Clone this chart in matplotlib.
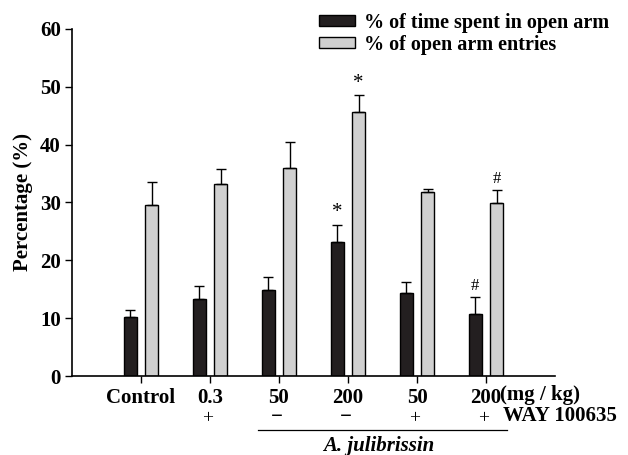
import numpy as np
import matplotlib.pyplot as plt

plt.rcParams['font.family'] = ['Liberation Serif', 'DejaVu Serif']
plt.rcParams['font.weight'] = 'bold'

doses = ['Control', '0.3', '50', '200', '50', '200']
way = ['', '+', '\u2212', '\u2212', '+', '+']
time_mean = [10.15, 13.4, 14.9, 23.1, 14.4, 10.7]
time_err = [1.2, 2.2, 2.2, 3.0, 1.8, 3.0]
entry_mean = [29.5, 33.2, 36.0, 45.7, 31.8, 29.9]
entry_err = [4.0, 2.6, 4.4, 2.8, 0.6, 2.3]
time_marks = ['', '', '', '*', '', '#']
entry_marks = ['', '', '', '*', '', '#']

x = np.arange(1, len(doses) + 1)
w = 0.19
off = 0.155

fig = plt.figure(figsize=(6.28, 4.55), dpi=100)
ax = fig.add_axes([0.1146, 0.1736, 0.8838 - 0.1146, 0.9363 - 0.1736])

b1 = ax.bar(x - off, time_mean, w, color='#231f20', edgecolor='black', linewidth=1,
            label='% of time spent in open arm')
b2 = ax.bar(x + off, entry_mean, w, color='#d0d0d0', edgecolor='black', linewidth=1,
            label='% of open arm entries')
ax.errorbar(x - off, time_mean, yerr=[np.zeros(len(x)), time_err], fmt='none',
            ecolor='black', elinewidth=1, capsize=3.5, capthick=1)
ax.errorbar(x + off, entry_mean, yerr=[np.zeros(len(x)), entry_err], fmt='none',
            ecolor='black', elinewidth=1, capsize=3.5, capthick=1)

for xs, means, errs, marks in [(x - off, time_mean, time_err, time_marks),
                               (x + off, entry_mean, entry_err, entry_marks)]:
    for xi, m, e, s in zip(xs, means, errs, marks):
        if s:
            ax.text(xi, m + e + 0.5, s, ha='center', va='bottom',
                    fontsize=15 if s == '*' else 12, fontweight='normal')

ax.set_xlim(0, 7)
ax.set_ylim(0, 60)
ax.set_yticks(np.arange(0, 61, 10))
ax.set_xticks(x)
ax.set_xticklabels([])
ax.tick_params(axis='y', labelsize=15, length=5, width=1, direction='out', pad=3)
ax.tick_params(axis='x', length=5, width=1, direction='out')
for lab in ax.get_yticklabels():
    lab.set_fontweight('bold')
for sp in ['top', 'right']:
    ax.spines[sp].set_visible(False)
for sp in ['left', 'bottom']:
    ax.spines[sp].set_linewidth(1.2)

ax.set_ylabel('Percentage (%)', fontsize=15, fontweight='bold', labelpad=5)

tr = ax.get_xaxis_transform()
for xi, d, wv in zip(x, doses, way):
    ax.text(xi, -0.063, d, transform=tr, ha='center', va='center', fontsize=15,
            fontweight='bold')
    if wv == '+':
        ax.text(xi - 0.03, -0.123, wv, transform=tr, ha='center', va='center',
                fontsize=14, fontweight='normal')
    elif wv:
        ax.text(xi - 0.03, -0.118, wv, transform=tr, ha='center', va='center',
                fontsize=15, fontweight='heavy')

ax.text(6.2, -0.055, '(mg / kg)', transform=tr, ha='left', va='center', fontsize=15,
        fontweight='bold')
ax.text(6.25, -0.115, 'WAY 100635', transform=tr, ha='left', va='center', fontsize=15,
        fontweight='bold')
ax.plot([2.7, 6.3], [-0.157, -0.157], transform=tr, color='black', lw=0.9, clip_on=False)
ax.text(4.45, -0.203, 'A. julibrissin', transform=tr, ha='center', va='center',
        fontsize=15, fontweight='bold', style='italic')

fig.legend(handles=[b1, b2], loc='upper left', bbox_to_anchor=(0.495, 0.99),
           frameon=False, fontsize=14.5, handlelength=1.8, handleheight=0.5,
           handletextpad=0.45, labelspacing=0.1, borderaxespad=0)

fig.savefig('out.png', dpi=100)
